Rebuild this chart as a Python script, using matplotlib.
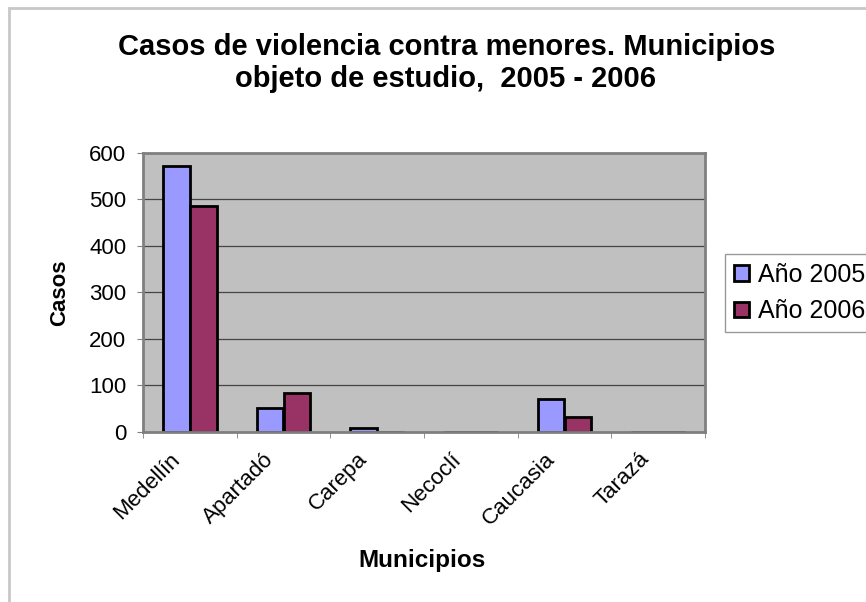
import numpy as np
import matplotlib

matplotlib.use("Agg")
import matplotlib.pyplot as plt
import matplotlib.transforms as mtransforms
from matplotlib.patches import Rectangle

plt.rcParams["font.family"] = ["Liberation Sans", "DejaVu Sans"]

# ── Data ─────────────────────────────────────────────────────────────────────
municipios = ["Medellín", "Apartadó", "Carepa", "Necoclí", "Caucasia", "Tarazá"]
casos_2005 = [572, 52, 9, 0, 71, 0]
casos_2006 = [486, 83, 0, 0, 32, 0]
y_ticks = [0, 100, 200, 300, 400, 500, 600]

# ── Figure ───────────────────────────────────────────────────────────────────
fig = plt.figure(figsize=(8.66, 6.02), dpi=100)
ax = fig.add_axes([143 / 866, 1 - 432 / 602, 562 / 866, 279.3 / 602])

# outer chart frame (light grey), only left/top edges fall inside the image
fig.patches.append(
    Rectangle((9 / 866, -0.2), 1.2, 1.2 - 8 / 602, transform=fig.transFigure,
              fill=False, edgecolor="#c8c8c8", linewidth=2)
)

x = np.arange(len(municipios))
w = 0.286
ax.bar(x - w / 2, casos_2005, w, color="#9999ff", edgecolor="black",
       linewidth=2, label="Año 2005", zorder=3)
ax.bar(x + w / 2, casos_2006, w, color="#993366", edgecolor="black",
       linewidth=2, label="Año 2006", zorder=3)

ax.set_facecolor("#c0c0c0")
ax.set_xlim(-0.5, len(municipios) - 0.5)
ax.set_ylim(0, 600)
ax.set_yticks(y_ticks)
ax.yaxis.grid(True, color="#444444", linewidth=0.9, zorder=1)
ax.set_axisbelow(True)

for s in ax.spines.values():
    s.set_color("#808080")
    s.set_linewidth(2)
    s.set_zorder(4)

ax.tick_params(axis="y", labelsize=16, length=4, color="#808080", pad=8)
ax.set_xticks(x)
ax.set_xticklabels(municipios, rotation=45, ha="right",
                   rotation_mode="anchor", fontsize=16)
ax.tick_params(axis="x", which="major", length=0, pad=12)
ax.set_xticks(np.arange(-0.5, len(municipios)), minor=True)
ax.tick_params(axis="x", which="minor", length=4, color="#808080")

# labels sit a bit left of the category centre
shift = mtransforms.ScaledTranslation(-20 / 100, 0, fig.dpi_scale_trans)
for lbl in ax.get_xticklabels():
    lbl.set_transform(lbl.get_transform() + shift)

ax.set_ylabel("Casos", fontsize=16, fontweight="bold", labelpad=14)
fig.text(422 / 866, 1 - 560 / 602, "Municipios",
         fontsize=17.5, fontweight="bold", ha="center", va="center")

fig.text(447 / 866, 1 - 47 / 602,
         "Casos de violencia contra menores. Municipios",
         fontsize=21, fontweight="bold", ha="center", va="center")
fig.text(446 / 866, 1 - 79 / 602, "objeto de estudio,  2005 - 2006",
         fontsize=21, fontweight="bold", ha="center", va="center")

leg = ax.legend(loc="upper left", bbox_to_anchor=(725 / 866, 1 - 254 / 602),
                bbox_transform=fig.transFigure, fontsize=18, frameon=True,
                fancybox=False, borderpad=0.35, handlelength=0.6,
                handleheight=0.6, handletextpad=0.35, labelspacing=0.5,
                borderaxespad=0)
leg.get_frame().set_edgecolor("#808080")
leg.get_frame().set_linewidth(1)

fig.savefig("out.png", dpi=100)
